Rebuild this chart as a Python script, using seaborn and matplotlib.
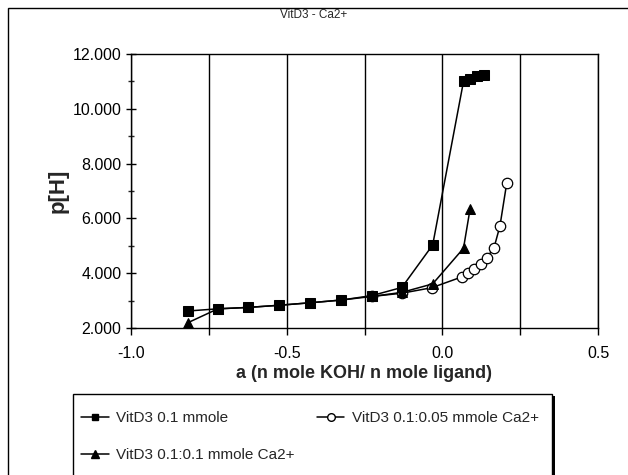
import matplotlib
matplotlib.use("Agg")
import matplotlib.pyplot as plt
import matplotlib.ticker as mticker
from matplotlib.patches import Rectangle
from matplotlib.lines import Line2D
import seaborn as sns
import pandas as pd

# data
x_sq = [-0.818, -0.721, -0.625, -0.524, -0.425, -0.325, -0.227, -0.130, -0.031, 0.068, 0.089, 0.110, 0.134]
y_sq = [2.62, 2.70, 2.75, 2.83, 2.92, 3.02, 3.18, 3.48, 5.03, 11.00, 11.10, 11.18, 11.25]

x_tri = [-0.818, -0.721, -0.625, -0.524, -0.425, -0.325, -0.227, -0.130, -0.031, 0.068, 0.089]
y_tri = [2.19, 2.70, 2.75, 2.83, 2.92, 3.02, 3.15, 3.30, 3.61, 4.91, 6.34]

x_circ = [-0.227, -0.130, -0.034, 0.064, 0.084, 0.103, 0.123, 0.143, 0.166, 0.185, 0.207]
y_circ = [3.15, 3.27, 3.47, 3.87, 4.00, 4.15, 4.32, 4.57, 4.93, 5.72, 7.30]

labels = ["VitD3 0.1 mmole", "VitD3 0.1:0.05 mmole Ca2+", "VitD3 0.1:0.1 mmole Ca2+"]

sns.set_style("white")
plt.rcParams['font.family'] = ['Liberation Sans', 'DejaVu Sans']

fig = plt.figure(figsize=(6.28, 4.75), dpi=100)
ax = fig.add_axes([131 / 628, 1 - 328 / 475, 467 / 628, 274 / 475])

# circles first, then triangles, squares on top
sns.lineplot(data=pd.DataFrame({'x': x_circ, 'y': y_circ}), x='x', y='y', sort=False, ax=ax,
             color='black', lw=1.1, marker='o', markersize=7.5, markerfacecolor='white',
             markeredgecolor='black', markeredgewidth=0.9, zorder=3)
sns.lineplot(data=pd.DataFrame({'x': x_tri, 'y': y_tri}), x='x', y='y', sort=False, ax=ax,
             color='black', lw=1.1, marker='^', markersize=7, markerfacecolor='black',
             markeredgecolor='black', zorder=4)
sns.lineplot(data=pd.DataFrame({'x': x_sq, 'y': y_sq}), x='x', y='y', sort=False, ax=ax,
             color='black', lw=1.1, marker='s', markersize=6.5, markerfacecolor='black',
             markeredgecolor='black', zorder=5)

ax.set_xlim(-1.0, 0.5)
ax.set_ylim(2.0, 12.0)

xt = [-1.0, -0.75, -0.5, -0.25, 0.0, 0.25, 0.5]
ax.xaxis.set_major_locator(mticker.FixedLocator(xt))
ax.xaxis.set_major_formatter(mticker.FuncFormatter(
    lambda v, p: ('%.1f' % v) if abs(v * 2 - round(v * 2)) < 1e-6 else ''))
ax.yaxis.set_major_locator(mticker.MultipleLocator(2))
ax.yaxis.set_minor_locator(mticker.MultipleLocator(1))
ax.yaxis.set_major_formatter(mticker.FormatStrFormatter('%.3f'))

ax.grid(axis='x', color='black', lw=1.0)
ax.grid(axis='y', visible=False)
ax.set_axisbelow(True)
for s in ax.spines.values():
    s.set_color('black')
    s.set_linewidth(1.0)

ax.tick_params(axis='x', which='major', direction='out', length=5, width=1, colors='black',
               labelsize=11.5, pad=8, bottom=True)
ax.tick_params(axis='y', which='major', direction='inout', length=7, width=1, colors='black',
               labelsize=11.5, left=True)
ax.tick_params(axis='y', which='minor', direction='inout', length=5, width=1, left=True)

ax.set_xlabel('a (n mole KOH/ n mole ligand)', fontsize=13, fontweight='bold', labelpad=3)
ax.set_ylabel('p[H]', fontsize=16, fontweight='bold', labelpad=3)

fig.text(0.5, 1 - 15 / 475, 'VitD3 - Ca2+', ha='center', va='center', fontsize=8.5)

# outer chart border (right side runs off the picture)
fig.patches.append(Rectangle((8 / 628, -0.05), 1.0, 1 - 8 / 475 + 0.05,
                             transform=fig.transFigure, fill=False, ec='black', lw=1.0))

# legend box (cut off at the bottom) with shadow on the right
fig.patches.append(Rectangle((76 / 628, -0.05), 479 / 628, 0.05 + 1 - 396 / 475,
                             transform=fig.transFigure, fc='black', ec='black', lw=0, zorder=1))
fig.patches.append(Rectangle((73 / 628, -0.05), 479 / 628, 0.05 + 1 - 394 / 475,
                             transform=fig.transFigure, fc='white', ec='black', lw=1.0, zorder=2))

handles = [
    Line2D([], [], color='black', lw=1.1, marker='s', markersize=5, markerfacecolor='black'),
    Line2D([], [], color='black', lw=1.1, marker='^', markersize=5.5, markerfacecolor='black'),
    Line2D([], [], color='black', lw=1.1, marker='o', markersize=5.5, markerfacecolor='white'),
]
leg = fig.legend(handles, [labels[0], labels[2], labels[1]], ncol=2, frameon=False,
                 loc='upper left', bbox_to_anchor=(81 / 628, 1 - 411 / 475),
                 fontsize=11, handlelength=1.8, handletextpad=0.5, columnspacing=1.45,
                 labelspacing=1.5, borderaxespad=0, borderpad=0)
leg.set_zorder(3)

fig.savefig('out.png', dpi=100)
